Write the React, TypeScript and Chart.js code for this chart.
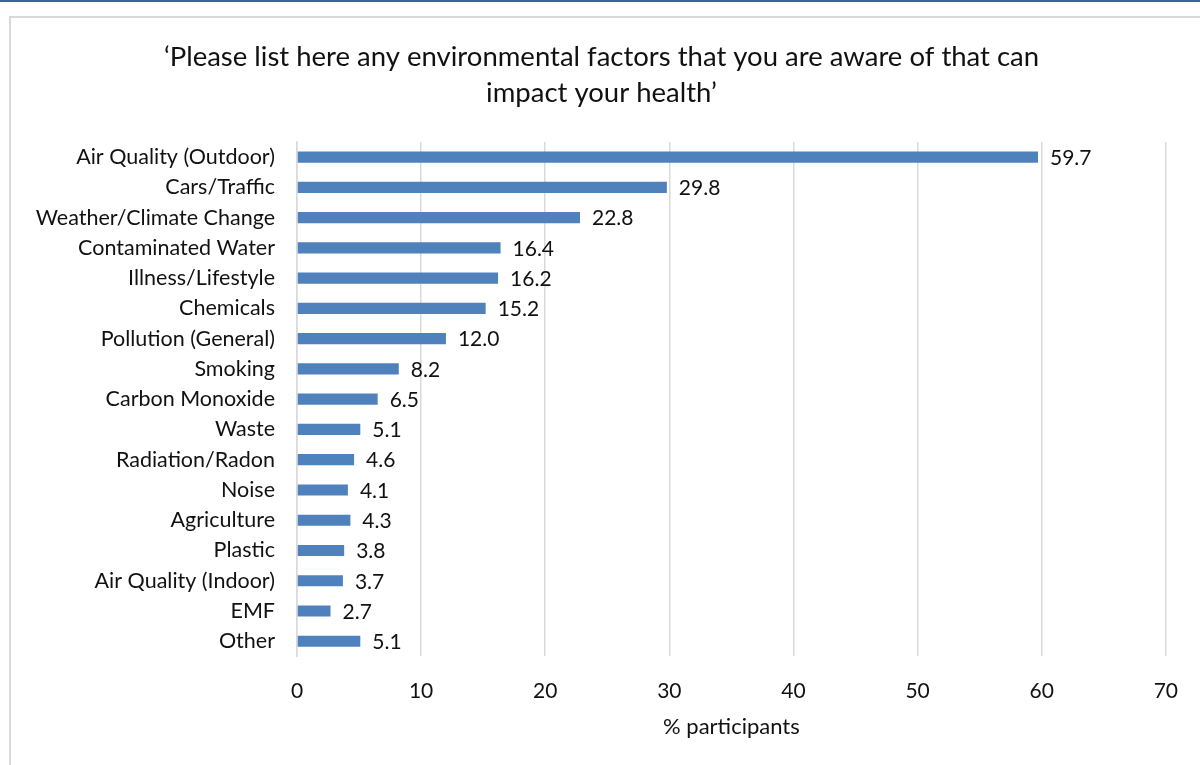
import React, { useEffect, useRef } from "react";
import { Chart, registerables } from "chart.js";

Chart.register(...registerables);

const categories = [
  "Air Quality (Outdoor)",
  "Cars/Traffic",
  "Weather/Climate Change",
  "Contaminated Water",
  "Illness/Lifestyle",
  "Chemicals",
  "Pollution (General)",
  "Smoking",
  "Carbon Monoxide",
  "Waste",
  "Radiation/Radon",
  "Noise",
  "Agriculture",
  "Plastic",
  "Air Quality (Indoor)",
  "EMF",
  "Other",
];
const values = [59.7, 29.8, 22.8, 16.4, 16.2, 15.2, 12.0, 8.2, 6.5, 5.1, 4.6, 4.1, 4.3, 3.8, 3.7, 2.7, 5.1];
const titleLines = [
  "\u2018Please list here any environmental factors that you are aware of that can",
  "impact your health\u2019",
];
const xTitle = "% participants";

const FONT = "Lato, 'Open Sans', sans-serif";

const valueLabels = {
  id: "valueLabels",
  afterDatasetsDraw(chart: any) {
    const ctx = chart.ctx;
    const meta = chart.getDatasetMeta(0);
    ctx.save();
    ctx.font = `21px ${FONT}`;
    ctx.fillStyle = "#111";
    ctx.textAlign = "left";
    ctx.textBaseline = "middle";
    meta.data.forEach((bar: any, i: number) => {
      ctx.fillText(values[i].toFixed(1), bar.x + 12, bar.y + 1);
    });
    ctx.restore();
  },
};

export default function App() {
  const ref = useRef<HTMLCanvasElement | null>(null);
  useEffect(() => {
    if (!ref.current) return;
    const chart = new Chart(ref.current, {
      type: "bar",
      data: {
        labels: categories,
        datasets: [
          {
            data: values,
            backgroundColor: "#4f81bd",
            barPercentage: 0.37,
            categoryPercentage: 1,
          },
        ],
      },
      options: {
        indexAxis: "y",
        responsive: false,
        animation: false,
        layout: { padding: { left: 0, right: 14, top: 0, bottom: 25 } },
        plugins: {
          legend: { display: false },
          tooltip: { enabled: false },
          title: {
            display: true,
            text: titleLines,
            color: "#111",
            font: { family: FONT, size: 27.5, weight: "normal", lineHeight: 36 / 27.5 },
            padding: { top: 21, bottom: 31 },
          },
        },
        scales: {
          x: {
            min: 0,
            max: 70,
            ticks: {
              stepSize: 10,
              color: "#111",
              font: { family: FONT, size: 21 },
              padding: 22,
            },
            grid: { color: "#d9d9d9", lineWidth: 1.5, drawTicks: false },
            border: { display: false },
            title: {
              display: true,
              text: xTitle,
              color: "#111",
              font: { family: FONT, size: 22 },
              padding: { top: -12, bottom: 0 },
            },
          },
          y: {
            ticks: {
              color: "#111",
              font: { family: FONT, size: 21.5 },
              padding: 22,
              autoSkip: false,
            },
            grid: { display: false, drawTicks: false },
            border: { display: true, color: "#d9d9d9", width: 1.5 },
            afterFit(scale: any) {
              scale.width = 280;
            },
          },
        },
      },
      plugins: [valueLabels],
    });
    return () => chart.destroy();
  }, []);

  return (
    <div style={{ position: "absolute", left: 0, top: 0, width: 1200, height: 765, background: "#fff", overflow: "hidden" }}>
      <div style={{ position: "absolute", left: 0, top: 0, width: 1200, height: 2, background: "#3a6595" }} />
      <div
        style={{
          position: "absolute",
          left: 9,
          top: 16,
          width: 1200,
          height: 800,
          borderLeft: "2px solid #d9d9d9",
          borderTop: "2px solid #d9d9d9",
        }}
      />
      <canvas ref={ref} width={1183} height={747} style={{ position: "absolute", left: 17, top: 18 }} />
    </div>
  );
}
